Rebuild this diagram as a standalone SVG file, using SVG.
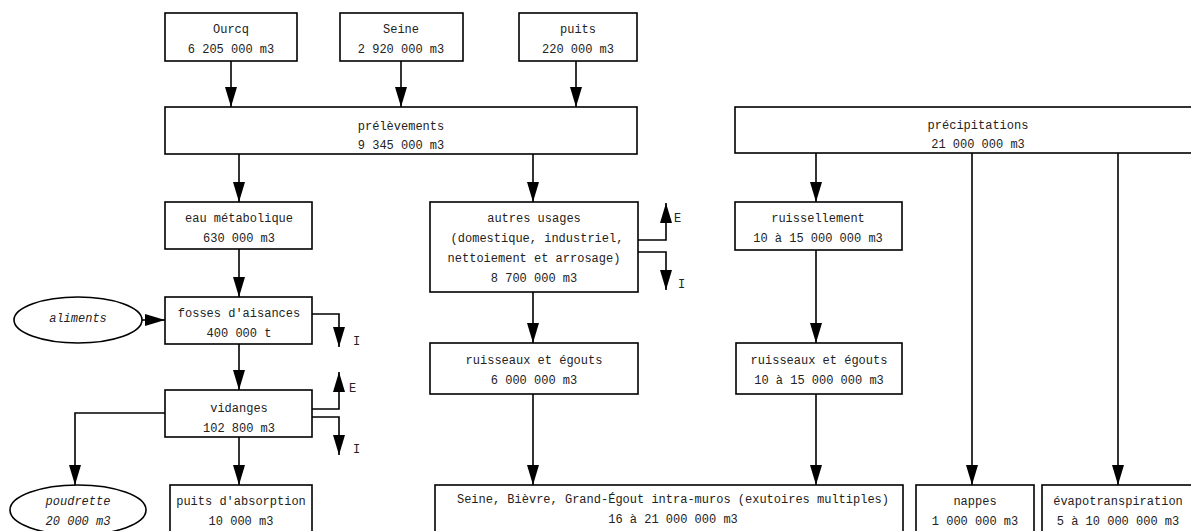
<svg xmlns="http://www.w3.org/2000/svg" width="1191" height="531" viewBox="0 0 1191 531">
<style>
.b{fill:#fff;stroke:#000;stroke-width:1.6}
text{font-family:"Liberation Mono","DejaVu Sans Mono",monospace;font-size:12px;fill:#222;text-anchor:middle}
.it{font-style:italic}
.l{text-anchor:start}
.c{fill:none;stroke:#000;stroke-width:1.6}
</style>
<defs>
<marker id="ah" markerUnits="userSpaceOnUse" markerWidth="20" markerHeight="12" refX="20" refY="6" orient="auto">
<path d="M0,0 L20,6 L0,12 z" fill="#000"/>
</marker>
</defs>
<rect width="1191" height="531" fill="#fff"/>
<g id="connectors">
<path class="c" d="M231,61 V107" marker-end="url(#ah)"/>
<path class="c" d="M401,61 V107" marker-end="url(#ah)"/>
<path class="c" d="M576,61 V107" marker-end="url(#ah)"/>
<path class="c" d="M239,154 V202" marker-end="url(#ah)"/>
<path class="c" d="M533,154 V202" marker-end="url(#ah)"/>
<path class="c" d="M816,153 V202" marker-end="url(#ah)"/>
<path class="c" d="M972,153 V485" marker-end="url(#ah)"/>
<path class="c" d="M1118,153 V485" marker-end="url(#ah)"/>
<path class="c" d="M239,249 V297" marker-end="url(#ah)"/>
<path class="c" d="M142,320 H165" marker-end="url(#ah)"/>
<path class="c" d="M312,314 H339 V347" marker-end="url(#ah)"/>
<path class="c" d="M239,344 V390" marker-end="url(#ah)"/>
<path class="c" d="M312,409 H339 V372" marker-end="url(#ah)"/>
<path class="c" d="M312,417 H339 V455" marker-end="url(#ah)"/>
<path class="c" d="M165,413 H75 V485" marker-end="url(#ah)"/>
<path class="c" d="M239,437 V485" marker-end="url(#ah)"/>
<path class="c" d="M638,240 H666 V203" marker-end="url(#ah)"/>
<path class="c" d="M638,252 H666 V290" marker-end="url(#ah)"/>
<path class="c" d="M533,292 V343" marker-end="url(#ah)"/>
<path class="c" d="M816,250 V343" marker-end="url(#ah)"/>
<path class="c" d="M533,394 V485" marker-end="url(#ah)"/>
<path class="c" d="M816,394 V485" marker-end="url(#ah)"/>
</g>
<g id="ourcq"><rect class="b" x="165" y="13" width="132" height="48"/><text x="231" y="33">Ourcq</text><text x="231" y="53">6 205 000 m3</text></g>
<g id="seine"><rect class="b" x="340" y="13" width="123" height="48"/><text x="401" y="33">Seine</text><text x="401" y="53">2 920 000 m3</text></g>
<g id="puits"><rect class="b" x="519" y="13" width="118" height="48"/><text x="578" y="33">puits</text><text x="578" y="53">220 000 m3</text></g>
<g id="prelevements"><rect class="b" x="165" y="107" width="472" height="47"/><text x="401" y="130">prélèvements</text><text x="401" y="149">9 345 000 m3</text></g>
<g id="precipitations"><rect class="b" x="735" y="107" width="486" height="46"/><text x="978" y="129">précipitations</text><text x="978" y="148">21 000 000 m3</text></g>
<g id="eau-metabolique"><rect class="b" x="165" y="202" width="147" height="47"/><text x="239" y="222">eau métabolique</text><text x="239" y="242">630 000 m3</text></g>
<g id="autres-usages"><rect class="b" x="430" y="202" width="208" height="90"/><text x="534" y="222">autres usages</text><text x="537" y="242">(domestique, industriel,</text><text x="534" y="262">nettoiement et arrosage)</text><text x="534" y="282">8 700 000 m3</text></g>
<g id="ruissellement"><rect class="b" x="735" y="202" width="167" height="48"/><text x="818" y="222">ruissellement</text><text x="818" y="242">10 à 15 000 000 m3</text></g>
<g id="aliments"><ellipse class="b" cx="78" cy="320" rx="64" ry="23"/><text class="it" x="78" y="322">aliments</text></g>
<g id="fosses"><rect class="b" x="165" y="297" width="147" height="47"/><text x="239" y="317">fosses d'aisances</text><text x="239" y="337">400 000 t</text></g>
<g id="fosses-I"><text class="l" x="353" y="345">I</text></g>
<g id="vidanges"><rect class="b" x="165" y="390" width="147" height="47"/><text x="239" y="412">vidanges</text><text x="239" y="432">102 800 m3</text></g>
<g id="vidanges-E"><text class="l" x="349" y="392">E</text></g>
<g id="vidanges-I"><text class="l" x="353" y="453">I</text></g>
<g id="autres-E"><text class="l" x="674" y="222">E</text></g>
<g id="autres-I"><text class="l" x="678" y="288">I</text></g>
<g id="ruisseaux1"><rect class="b" x="430" y="343" width="208" height="51"/><text x="534" y="364">ruisseaux et égouts</text><text x="534" y="384">6 000 000 m3</text></g>
<g id="ruisseaux2"><rect class="b" x="736" y="343" width="166" height="51"/><text x="819" y="364">ruisseaux et égouts</text><text x="819" y="384">10 à 15 000 000 m3</text></g>
<g id="poudrette"><ellipse class="b" cx="78" cy="510" rx="68" ry="25"/><text class="it" x="78" y="505">poudrette</text><text class="it" x="78" y="525">20 000 m3</text></g>
<g id="puits-absorption"><rect class="b" x="170" y="485" width="142" height="60"/><text x="241" y="505">puits d'absorption</text><text x="241" y="525">10 000 m3</text></g>
<g id="exutoires"><rect class="b" x="435" y="485" width="468" height="60"/><text x="673" y="503">Seine, Bièvre, Grand-Égout intra-muros (exutoires multiples)</text><text x="673" y="523">16 à 21 000 000 m3</text></g>
<g id="nappes"><rect class="b" x="916" y="485" width="118" height="60"/><text x="975" y="505">nappes</text><text x="975" y="525">1 000 000 m3</text></g>
<g id="evapotranspiration"><rect class="b" x="1042" y="485" width="152" height="60"/><text x="1118" y="505">évapotranspiration</text><text x="1118" y="525">5 à 10 000 000 m3</text></g>
</svg>
